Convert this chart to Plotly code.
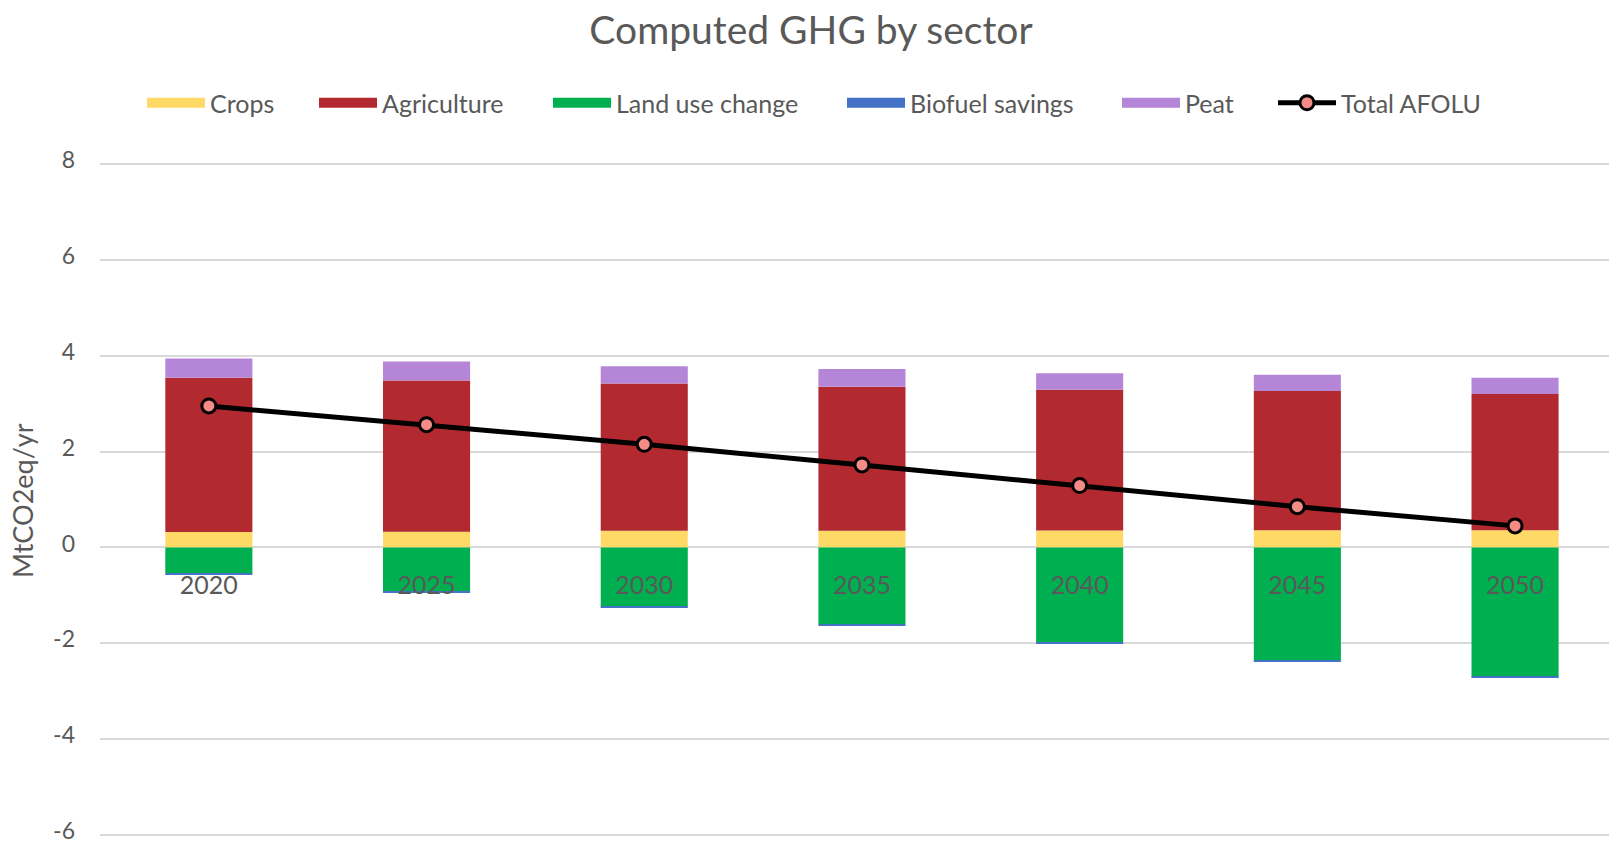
import plotly.graph_objects as go

years = ["2020", "2025", "2030", "2035", "2040", "2045", "2050"]
crops = [0.32, 0.33, 0.35, 0.35, 0.355, 0.36, 0.36]
agriculture = [3.22, 3.15, 3.07, 3.00, 2.935, 2.90, 2.84]
land_use_change = [-0.54, -0.91, -1.24, -1.60, -1.98, -2.36, -2.70]
biofuel_savings = [-0.02, -0.02, -0.02, -0.02, -0.02, -0.02, -0.02]
peat = [0.40, 0.40, 0.36, 0.37, 0.34, 0.34, 0.34]
total_afolu = [2.95, 2.56, 2.15, 1.72, 1.29, 0.85, 0.45]

y_tickvals = [-6, -4, -2, 0, 2, 4, 6, 8]
y_ticktext = ["-6", "-4", "-2", "0", "2", "4", "6", "8"]

series = [
    ("Crops", crops, "#FFD966"),
    ("Agriculture", agriculture, "#B22A30"),
    ("Land use change", land_use_change, "#00B050"),
    ("Biofuel savings", biofuel_savings, "#4472C4"),
    ("Peat", peat, "#B586D8"),
]
# legend item left edges (px)
legend_px = [142, 314, 548, 842, 1117, 1273]

FONT = "Lato"
GREY = "#595959"
W, H = 1609, 846
LEG_Y = 1 - 103 / H


def legend_cfg(px):
    return dict(
        x=px / W, xref="container", xanchor="left",
        y=LEG_Y, yref="container", yanchor="middle",
        font=dict(size=25, color=GREY, family=FONT), itemwidth=58,
        bgcolor="rgba(0,0,0,0)", borderwidth=0, itemclick=False,
    )


fig = go.Figure()
legend_layout = {}
for i, (name, vals, col) in enumerate(series):
    lname = "legend" if i == 0 else f"legend{i + 1}"
    fig.add_trace(go.Bar(
        x=years, y=vals, name=name, marker=dict(color=col, line=dict(width=0)),
        width=0.4, showlegend=False, legendgroup=name,
    ))
    fig.add_trace(go.Scatter(
        x=[None], y=[None], mode="lines", name=name, legendgroup=name, legend=lname,
        line=dict(color=col, width=14), hoverinfo="skip",
    ))
    legend_layout[lname] = legend_cfg(legend_px[i])

fig.add_trace(go.Scatter(
    x=years, y=total_afolu, name="Total AFOLU", mode="lines+markers", legend="legend6",
    line=dict(color="black", width=5),
    marker=dict(size=14, color="#F48B87", line=dict(color="black", width=3)),
))
legend_layout["legend6"] = legend_cfg(legend_px[5])

y_lo, y_hi = -6.1, 8.1
px_per_unit = (835.3 - 163.7) / 14
top = 163.7 - (y_hi - 8) * px_per_unit
plot_h = (y_hi - y_lo) * px_per_unit
bottom = H - top - plot_h
plot_left = 100

fig.update_layout(
    width=W, height=H,
    margin=dict(l=plot_left, r=0, t=top, b=bottom, autoexpand=False),
    paper_bgcolor="white", plot_bgcolor="white",
    barmode="relative",
    font=dict(family=FONT, color=GREY, size=24),
    title=dict(text="Computed GHG by sector", x=811 / W, xanchor="center",
               y=1 - 30 / H, yanchor="middle", yref="container",
               font=dict(size=39, color=GREY, family=FONT)),
    showlegend=True,
    **legend_layout,
)

plot_w = W - plot_left
fig.add_annotation(
    text="MtCO2eq/yr", textangle=-90, showarrow=False,
    xref="paper", x=(23 - plot_left) / plot_w, xanchor="center",
    yref="paper", y=(1 - y_lo) / (y_hi - y_lo) - 1.5 / plot_h, yanchor="middle",
    font=dict(size=27, color=GREY, family=FONT),
)

fig.update_yaxes(
    range=[y_lo, y_hi], tickmode="array", tickvals=y_tickvals, ticktext=y_ticktext,
    showgrid=True, gridcolor="#D9D9D9", gridwidth=1.5,
    zeroline=True, zerolinecolor="#D9D9D9", zerolinewidth=1.5,
    tickfont=dict(size=23, color=GREY), ticks="", ticklabelstandoff=24,
    ticklabelshift=-4, ticklabeloverflow="allow", showline=False,
)
fig.update_xaxes(
    type="category", range=[-0.5, -0.5 + plot_w / 217.7],
    anchor="free", position=(0 - y_lo) / (y_hi - y_lo),
    showgrid=False, showline=False, zeroline=False,
    ticks="outside", ticklen=16, tickcolor="rgba(0,0,0,0)",
    tickfont=dict(size=25, color=GREY), tickangle=0,
)

fig.write_html("out.html", post_script="document.body.style.margin='0';",
               config={"displayModeBar": False})
